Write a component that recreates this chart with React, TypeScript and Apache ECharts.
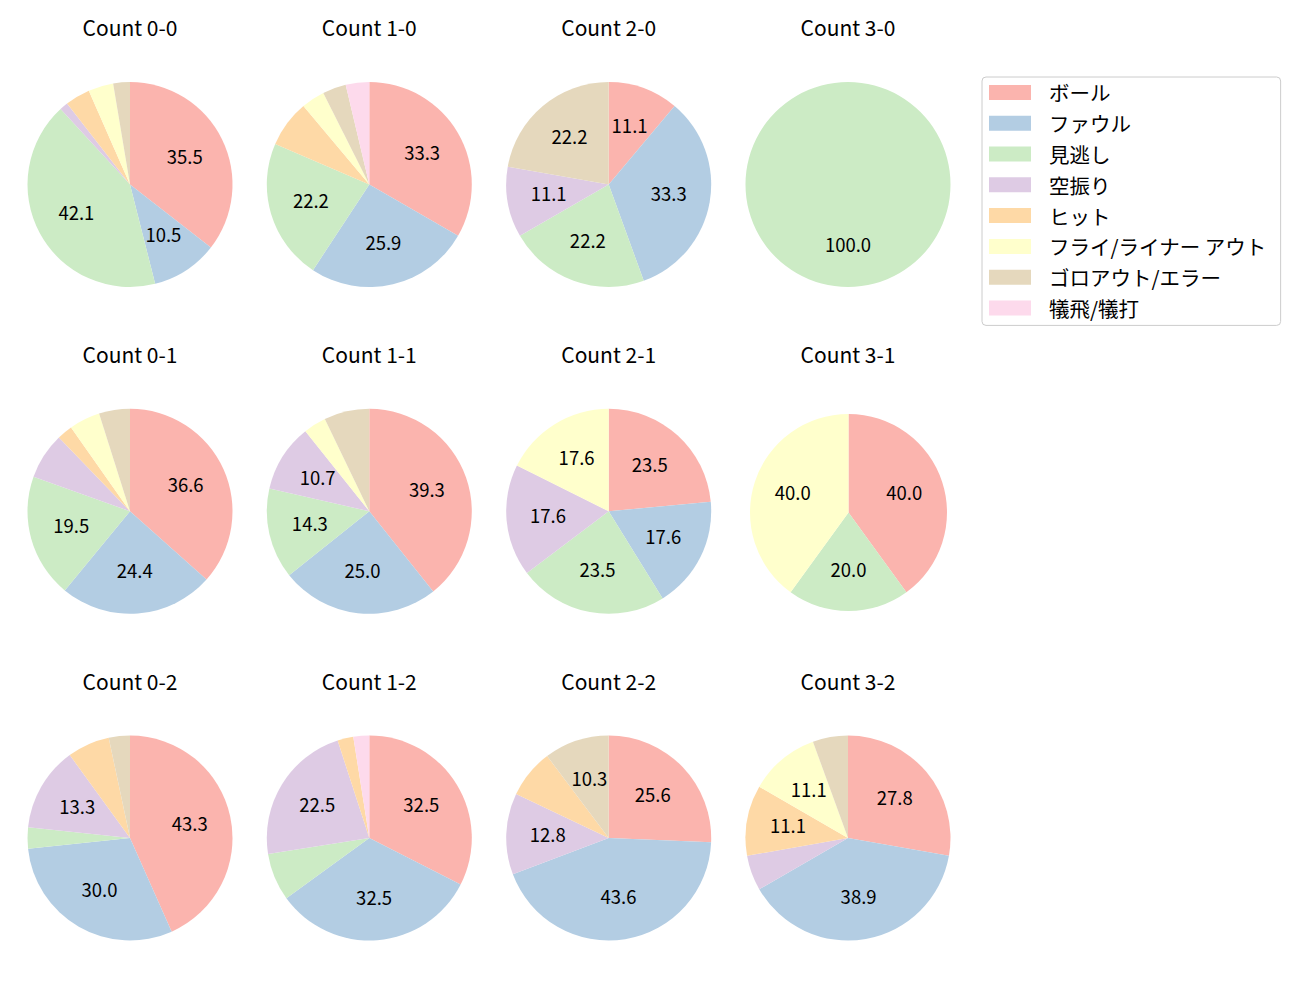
import React, { useEffect, useRef } from "react";
import * as echarts from "echarts";

const categories = [
  "ボール",
  "ファウル",
  "見逃し",
  "空振り",
  "ヒット",
  "フライ/ライナー アウト",
  "ゴロアウト/エラー",
  "犠飛/犠打",
];
const colors = ["#fbb4ae", "#b3cde3", "#ccebc5", "#decbe4", "#fed9a6", "#ffffcc", "#e5d8bd", "#fddaec"];

const titles = [
  "Count 0-0", "Count 1-0", "Count 2-0", "Count 3-0",
  "Count 0-1", "Count 1-1", "Count 2-1", "Count 3-1",
  "Count 0-2", "Count 1-2", "Count 2-2", "Count 3-2",
];

const c00 = [27, 8, 32, 1, 3, 3, 2, 0];
const c10 = [9, 7, 6, 0, 2, 1, 1, 1];
const c20 = [1, 3, 2, 1, 0, 0, 2, 0];
const c30 = [0, 0, 1, 0, 0, 0, 0, 0];
const c01 = [15, 10, 8, 3, 1, 2, 2, 0];
const c11 = [11, 7, 4, 3, 0, 1, 2, 0];
const c21 = [4, 3, 4, 3, 0, 3, 0, 0];
const c31 = [2, 0, 1, 0, 0, 2, 0, 0];
const c02 = [13, 9, 1, 4, 2, 0, 1, 0];
const c12 = [13, 13, 3, 9, 1, 0, 0, 1];
const c22 = [10, 17, 0, 5, 3, 0, 4, 0];
const c32 = [5, 7, 0, 1, 2, 2, 1, 0];

const allCounts = [c00, c10, c20, c30, c01, c11, c21, c31, c02, c12, c22, c32];

const FONT = "Noto Sans CJK JP";

export default function App() {
  const ref = useRef<HTMLDivElement>(null);
  useEffect(() => {
    document.body.style.margin = "0";
    if (!ref.current) return;
    const chart = echarts.init(ref.current, undefined, { renderer: "svg" });
    const colX = [130, 369.3, 608.7, 848];
    const rowY = [184.5, 511.3, 838];
    const titleY = [28.5, 355.3, 682];
    const series: any[] = [];
    const title: any[] = [];
    allCounts.forEach((vals, i) => {
      const col = i % 4;
      const row = Math.floor(i / 4);
      let cx = colX[col];
      let cy = rowY[row];
      let r = 102.5;
      if (i === 7) {
        r = 98.5;
        cx = 848.5;
        cy = 512.5;
      }
      const total = vals.reduce((a, b) => a + b, 0);
      title.push({
        text: titles[i],
        left: colX[col],
        top: titleY[row] - 12.5,
        textAlign: "center",
        padding: 0,
        textStyle: { fontFamily: FONT, fontSize: 21, fontWeight: "normal", color: "#000", lineHeight: 22 },
      });
      series.push({
        type: "pie",
        center: [cx, cy],
        radius: [0, r],
        startAngle: 90,
        clockwise: true,
        silent: true,
        avoidLabelOverlap: false,
        emphasis: { disabled: true },
        label: { show: false },
        labelLine: { show: false },
        data: vals.map((v, k) => ({
          name: categories[k],
          value: v,
          itemStyle: { color: colors[k], borderWidth: 0 },
        })),
      });
      series.push({
        type: "pie",
        center: [cx, cy],
        radius: [r * 0.2 - 7, r],
        startAngle: 90,
        clockwise: true,
        silent: true,
        legendHoverLink: false,
        avoidLabelOverlap: false,
        emphasis: { disabled: true },
        itemStyle: { color: "rgba(0,0,0,0)", borderWidth: 0 },
        labelLine: { show: false },
        data: vals.map((v, k) => {
          const pct = total > 0 ? (v / total) * 100 : 0;
          return {
            name: categories[k],
            value: v,
            itemStyle: { color: "rgba(0,0,0,0)" },
            label: {
              show: pct >= 10,
              position: "inside",
              formatter: pct.toFixed(1),
              fontFamily: FONT,
              fontSize: 18.5,
              color: "#000",
              offset: [0, -2],
            },
          };
        }),
      });
    });
    chart.setOption({
      animation: false,
      backgroundColor: "#fff",
      textStyle: { fontFamily: FONT },
      title,
      legend: {
        data: categories,
        orient: "vertical",
        left: 982,
        top: 77,
        padding: [5, 14, 7, 7],
        itemWidth: 42,
        itemHeight: 15,
        itemGap: 10,
        icon: "rect",
        selectedMode: false,
        backgroundColor: "#fff",
        borderColor: "#cccccc",
        borderWidth: 1,
        borderRadius: 4,
        textStyle: { fontFamily: FONT, fontSize: 20.5, color: "#000", lineHeight: 20.8, padding: [0, 0, 0, 13] },
      },
      series,
    });
    return () => chart.dispose();
  }, []);
  return <div ref={ref} style={{ width: 1300, height: 1000 }} />;
}
